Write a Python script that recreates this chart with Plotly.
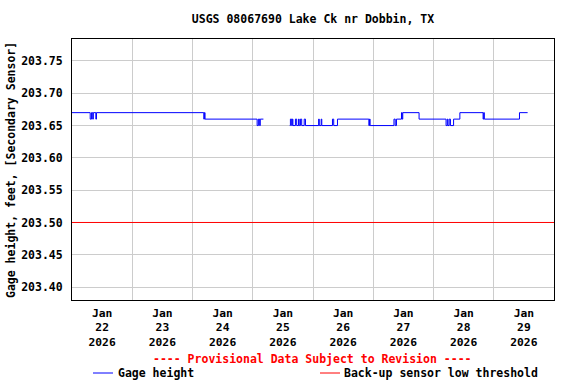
import plotly.graph_objects as go

# ---- data ----
title_text = "USGS 08067690 Lake Ck nr Dobbin, TX"
y_title = "Gage height, feet, [Secondary Sensor]"

# Gage height breakpoints (step series, value held until next time); None = gap
gage_times = [
    "2026-01-22 00:00", "2026-01-22 07:15", "2026-01-22 07:45", "2026-01-22 08:15",
    "2026-01-22 08:30", "2026-01-22 09:30", "2026-01-22 09:45",
    "2026-01-24 04:30", "2026-01-24 04:45", "2026-01-24 05:00",
    "2026-01-25 01:45", "2026-01-25 02:15", "2026-01-25 02:45", "2026-01-25 03:00",
    "2026-01-25 04:15", "2026-01-25 04:30",
    "2026-01-25 14:45", "2026-01-25 15:00", "2026-01-25 15:30", "2026-01-25 15:45",
    "2026-01-25 16:00", "2026-01-25 17:00", "2026-01-25 17:30", "2026-01-25 18:15",
    "2026-01-25 18:30", "2026-01-25 19:00", "2026-01-25 19:30", "2026-01-25 20:30",
    "2026-01-25 21:00",
    "2026-01-26 02:15", "2026-01-26 02:30", "2026-01-26 03:15", "2026-01-26 03:30",
    "2026-01-26 07:45", "2026-01-26 08:15", "2026-01-26 09:45",
    "2026-01-26 22:15", "2026-01-26 22:30", "2026-01-26 22:45",
    "2026-01-27 08:15", "2026-01-27 08:45", "2026-01-27 09:15",
    "2026-01-27 11:15", "2026-01-27 11:30", "2026-01-27 11:45",
    "2026-01-27 18:15",
    "2026-01-28 05:00", "2026-01-28 05:30", "2026-01-28 05:45", "2026-01-28 06:15",
    "2026-01-28 06:45", "2026-01-28 08:00", "2026-01-28 10:30",
    "2026-01-28 19:45", "2026-01-28 20:00", "2026-01-28 20:15",
    "2026-01-29 10:15", "2026-01-29 13:30",
]
gage_values = [
    203.67, 203.66, 203.67, 203.66,
    203.67, 203.66, 203.67,
    203.66, 203.67, 203.66,
    203.65, 203.66, 203.65, 203.66,
    203.66, None,
    203.65, 203.66, 203.65, 203.66,
    203.65, 203.66, 203.65, 203.66,
    203.65, 203.66, 203.65, 203.66,
    203.65,
    203.66, 203.65, 203.66, 203.65,
    203.66, 203.65, 203.66,
    203.65, 203.66, 203.65,
    203.66, 203.65, 203.66,
    203.67, 203.66, 203.67,
    203.66,
    203.65, 203.66, 203.65, 203.66,
    203.65, 203.66, 203.67,
    203.66, 203.67, 203.66,
    203.67, 203.67,
]

threshold_times = ["2026-01-22 00:00", "2026-01-30 00:00"]
threshold_values = [203.50, 203.50]

tick_days = ["2026-01-22", "2026-01-23", "2026-01-24", "2026-01-25",
             "2026-01-26", "2026-01-27", "2026-01-28", "2026-01-29"]
tick_labels = ["Jan<br>22<br>2026", "Jan<br>23<br>2026", "Jan<br>24<br>2026",
               "Jan<br>25<br>2026", "Jan<br>26<br>2026", "Jan<br>27<br>2026",
               "Jan<br>28<br>2026", "Jan<br>29<br>2026"]

FONT = "DejaVu Sans Mono"
FS = 11.5

fig = go.Figure()
fig.add_trace(go.Scatter(x=threshold_times, y=threshold_values, mode="lines",
                         line=dict(color="#ff0000", width=1),
                         name="Back-up sensor low threshold", showlegend=False))
fig.add_trace(go.Scatter(x=gage_times, y=gage_values, mode="lines",
                         line=dict(color="#0000ff", width=1, shape="hv"),
                         connectgaps=False, name="Gage height", showlegend=False))

W, H = 576, 384
OFF = 0  # page body margin removed via post_script
# desired plot box in screen pixels
X0, X1, Y0, Y1 = 72, 554, 39, 300
L, R = X0 - OFF, W - (X1 - OFF)
T, B = Y0 - OFF, H - (Y1 - OFF)

def px(x):
    return (x - X0) / (X1 - X0)

def py(y):
    return (Y1 - y) / (Y1 - Y0)

fig.update_layout(
    width=W, height=H,
    margin=dict(l=L, r=R, t=T, b=B, pad=0, autoexpand=False),
    paper_bgcolor="white", plot_bgcolor="white",
    font=dict(family=FONT, size=FS, color="black", weight="bold"),
    title=dict(text=title_text, x=0.5, xref="paper", xanchor="center",
               y=1 - (19 - OFF) / H, yref="container", yanchor="middle",
               font=dict(family=FONT, size=FS, color="black", weight="bold")),
    showlegend=False,
)

fig.update_xaxes(
    type="date", range=["2026-01-22", "2026-01-30"],
    tickmode="array",
    tickvals=[d + " 12:00" for d in tick_days], ticktext=tick_labels,
    ticks="outside", ticklen=2, tickcolor="rgba(0,0,0,0)", showgrid=False,
    minor=dict(dtick=86400000, tick0="2026-01-22", showgrid=True,
               gridcolor="#cccccc", gridwidth=1, ticks=""),
    showline=True, linecolor="black", linewidth=1, mirror=True,
    zeroline=False, automargin=False,
    tickfont=dict(family=FONT, size=11.3, color="black", weight="bold"),
)
fig.update_yaxes(
    range=[203.38, 203.784], tick0=203.4, dtick=0.05, tickformat=".2f",
    showgrid=True, gridcolor="#cccccc", gridwidth=1,
    ticks="outside", ticklen=6, tickcolor="rgba(0,0,0,0)",
    showline=True, linecolor="black", linewidth=1, mirror=True,
    zeroline=False, automargin=False,
    tickfont=dict(family=FONT, size=FS, color="black", weight="bold"),
)

# y-axis title
fig.add_annotation(text=y_title, xref="paper", yref="paper",
                   x=px(11), y=py(170), xanchor="center", yanchor="middle",
                   textangle=-90, showarrow=False,
                   font=dict(family=FONT, size=FS, color="black", weight="bold"))

fig.add_annotation(text="---- Provisional Data Subject to Revision ----",
                   xref="paper", yref="paper", x=px(312), y=py(359),
                   xanchor="center", yanchor="middle", showarrow=False,
                   font=dict(family=FONT, size=FS, color="#ff0000", weight="bold"))

# legend
fig.add_shape(type="line", xref="paper", yref="paper",
              x0=px(93), x1=px(113), y0=py(373), y1=py(373),
              line=dict(color="#0000ff", width=1))
fig.add_annotation(text="Gage height", xref="paper", yref="paper",
                   x=px(116), y=py(373), xanchor="left", yanchor="middle",
                   showarrow=False,
                   font=dict(family=FONT, size=FS, color="black", weight="bold"))
fig.add_shape(type="line", xref="paper", yref="paper",
              x0=px(320), x1=px(340), y0=py(373), y1=py(373),
              line=dict(color="#ff0000", width=1))
fig.add_annotation(text="Back-up sensor low threshold", xref="paper", yref="paper",
                   x=px(342), y=py(373), xanchor="left", yanchor="middle",
                   showarrow=False,
                   font=dict(family=FONT, size=FS, color="black", weight="bold"))

fig.write_html("out.html",
               config={"displayModeBar": False},
               post_script="document.body.style.margin='0';")
